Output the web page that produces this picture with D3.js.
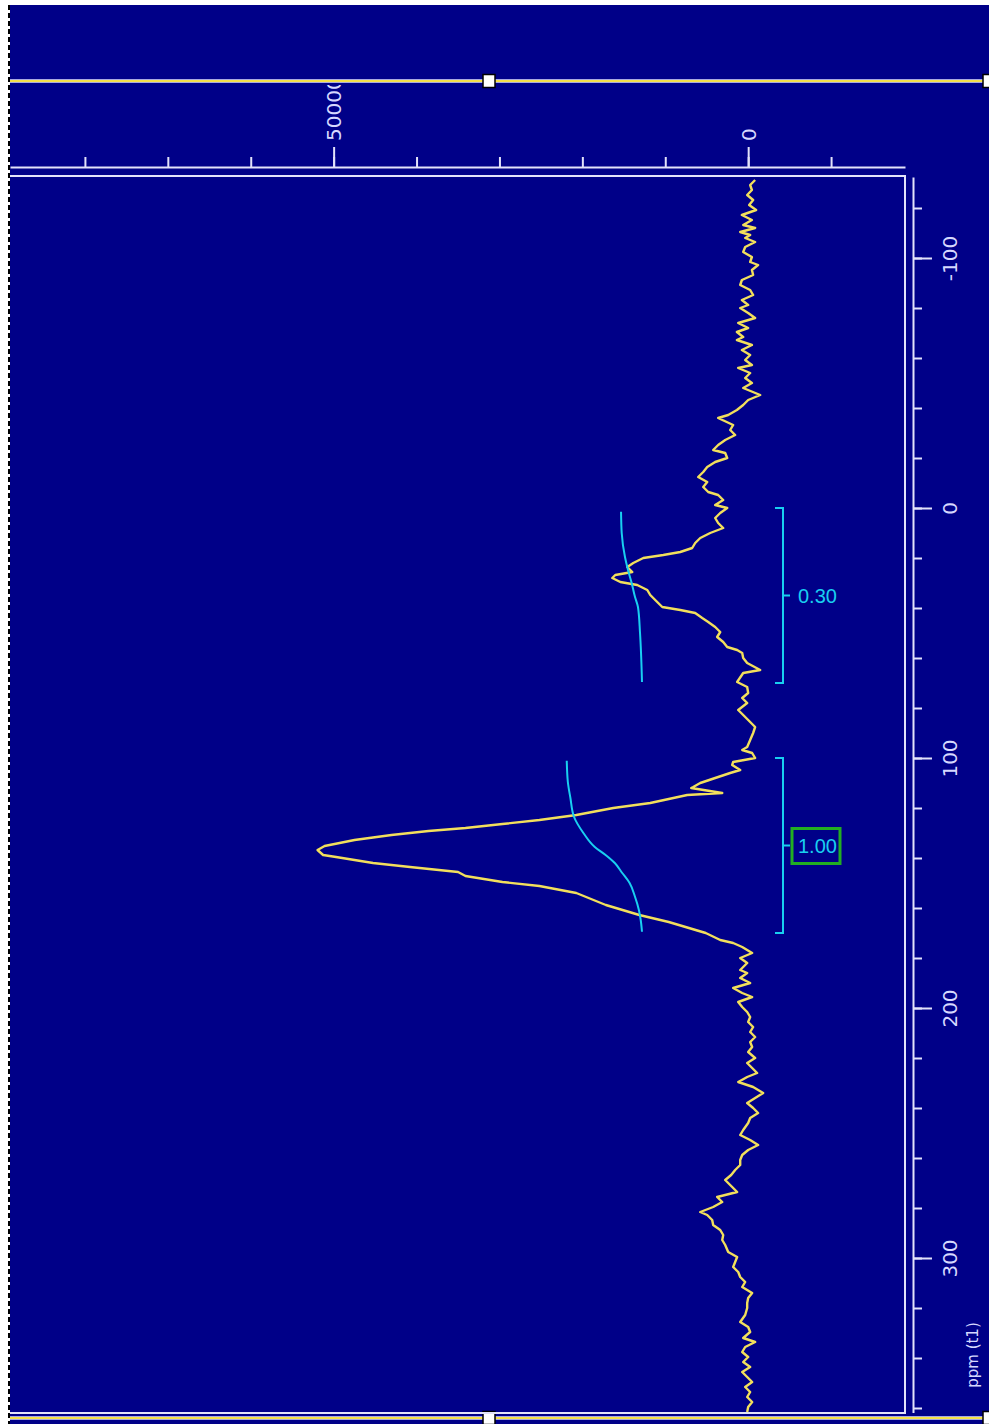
<!DOCTYPE html>
<html>
<head>
<meta charset="utf-8">
<script src="https://cdn.jsdelivr.net/npm/d3@7"></script>
<style>
  html, body { margin: 0; padding: 0; background: #ffffff; }
  svg { display: block; }
</style>
</head>
<body>
<div id="spectrum"></div>
<script>
// [ppm, intensity]
const spectrum = [
  [-131.2,-840],[-129.2,-240],[-127.2,-450],[-125.2,120],[-123.2,-600],[-121.2,-120],[-119.2,-960],[-117.2,760],
  [-115.2,-450],[-113.2,600],[-112.0,-840],[-110.4,960],[-109.2,-240],[-108.0,360],[-106.4,-840],[-104.4,360],
  [-102.4,600],[-100.4,-450],[-98.4,-240],[-97.2,-1200],[-95.2,-450],[-93.2,-600],[-91.2,760],[-89.2,960],
  [-87.2,-240],[-85.2,-600],[-83.2,760],[-81.2,0],[-80.0,960],[-78.0,0],[-76.0,-840],[-74.0,1200],[-72.0,0],
  [-70.4,1360],[-68.4,600],[-67.2,1360],[-65.2,-450],[-63.2,760],[-61.2,-240],[-59.2,360],[-57.2,-450],
  [-56.0,1200],[-54.0,-240],[-52.0,360],[-50.0,-450],[-48.0,600],[-45.2,-1450],[-43.2,0],[-41.2,600],
  [-39.2,1360],[-37.2,2410],[-36.0,3620],[-33.2,1810],[-31.2,2170],[-29.2,1570],[-27.2,2770],[-25.2,3620],
  [-23.2,4220],[-22.0,2770],[-20.0,2530],[-18.4,3980],[-16.4,4940],[-14.4,5420],[-12.4,6030],[-10.4,4940],
  [-8.4,5420],[-6.4,4820],[-5.2,3620],[-3.2,3010],[-1.2,3980],[0,2530],[2.0,3370],[4.0,3980],[6.0,3620],
  [8.0,3010],[10.0,4580],[12.0,5780],[14.0,6390],[16.0,6750],[17.6,8190],[18.8,10240],[20.0,12650],
  [22.0,13860],[23.6,14580],[25.6,13980],[26.8,16030],[28.0,16390],[29.6,15420],[30.8,13380],[32.8,12170],
  [34.8,11810],[37.6,10970],[39.6,10360],[40.8,8190],[42.0,6390],[44.0,5540],[45.6,4820],[47.6,3980],
  [49.6,3370],[51.6,3740],[53.6,3010],[55.6,2530],[56.8,1330],[58.0,720],[60.0,600],[62.0,120],[64.8,-1450],
  [66.0,600],[69.6,1330],[71.6,120],[74.0,0],[76.0,720],[78.0,120],[80.8,1200],[82.8,600],[84.8,0],
  [87.6,-840],[90.0,-600],[92.8,-240],[95.6,120],[96.8,720],[98.0,-480],[100.0,-840],[101.6,1810],
  [102.8,1930],[104.8,960],[106.0,2170],[108.0,3980],[110.0,5780],[111.6,6630],[112.0,6870],[114.0,3130],
  [114.8,7350],[118.0,11810],[120.0,16270],[122.8,20730],[124.8,25180],[126.4,29640],[128.0,34100],
  [129.2,38560],[130.8,43020],[132.8,47480],[135.2,51090],[136.8,51940],[138.8,51270],[139.6,49710],
  [142.0,45250],[143.6,40790],[145.6,34990],[147.2,34100],[149.6,29640],[151.2,25180],[154.0,20730],
  [158.8,17170],[162.8,13130],[165.6,9580],[170.0,5120],[172.8,3370],[174.0,1810],[175.6,720],[178.0,-480],
  [180.0,960],[182.0,120],[184.8,960],[186.0,120],[188.0,960],[190.0,-240],[192.0,1810],[194.0,720],
  [195.6,-480],[197.6,1200],[199.6,720],[201.6,120],[203.6,-240],[205.6,0],[207.6,-600],[209.6,-240],
  [211.6,-840],[213.6,-240],[215.6,-480],[217.6,0],[220.0,-840],[222.0,120],[224.0,-480],[226.0,-1080],
  [227.6,120],[229.6,1200],[231.6,-600],[234.0,-1810],[236.0,-840],[238.0,120],[240.0,-600],[242.0,-1200],
  [244.0,-240],[246.0,0],[248.8,600],[250.8,960],[252.8,-240],[254.8,-1200],[256.8,0],[258.8,720],
  [260.8,960],[262.8,960],[264.8,1570],[266.8,2050],[268.8,2770],[271.6,1930],[273.6,1330],[275.6,3740],
  [277.6,3130],[279.6,4220],[281.6,5780],[282.8,4940],[284.8,4340],[286.8,4220],[288.8,3370],[290.8,3010],
  [292.8,3130],[294.8,2770],[297.6,2410],[299.6,1330],[301.6,1570],[303.6,1810],[305.6,1200],[307.6,960],
  [309.6,360],[311.6,720],[314.0,-480],[316.0,0],[318.0,120],[320.0,120],[322.8,360],[325.6,960],[327.6,0],
  [329.6,-240],[332.0,600],[333.6,-840],[335.6,360],[337.6,720],[339.6,0],[341.6,600],[343.6,-240],
  [345.6,720],[347.6,120],[349.6,-480],[351.6,360],[353.6,-240],[355.6,120],[357.6,-480],[359.6,0],[361.6,120]
];

// [ppm, remaining integral]
const integralCurve1 = [[1.5,0.276],[10,0.267],[19.6,0.224],[24.8,0.184],[30,0.136],[35.6,0.092],[39.6,0.053],[50,0.026],[69.6,0]];
const integralCurve2 = [[101.1,0.99],[109.5,0.976],[116,0.942],[123.5,0.895],[130,0.771],[135.5,0.625],[138.8,0.479],
  [142,0.358],[146,0.26],[150,0.163],[155.5,0.092],[160.8,0.041],[164.8,0.017],[169.5,0]];

const integralRanges = [[0, 70], [100, 170]];
const integralLabels = ["0.30", "1.00"];
const ppmMajorTicks = [-100, 0, 100, 200, 300];
const ppmMinorTicks = [-120,-100,-80,-60,-40,-20,0,20,40,60,80,100,120,140,160,180,200,220,240,260,280,300,320,340,360];
const intensityMajorTicks = [0, 50000];
const intensityMinorTicks = [-10000,0,10000,20000,30000,40000,50000,60000,70000,80000];
const axisTitle = "ppm (t1)";

let width = 989, height = 1424;
let navy = "#000088", frameColor = "#e2e2fa", textColor = "#d6d8ff",
    traceColor = "#f2df5c", intColor = "#19cff0", boxColor = "#22ae22";

let y = d3.scaleLinear().domain([-132.4, 361.8]).range([177, 1412.5]);
let x = d3.scaleLinear().domain([-18916, 89036]).range([905, 10]);
let xi = d3.scaleLinear().domain([0, 1]).range([642, 566]);

let svg = d3.select("#spectrum")
    .append("svg")
        .attr("width", width)
        .attr("height", height);

svg.append("rect")
    .attr("x", 10).attr("y", 5)
    .attr("width", width - 10).attr("height", height - 5)
    .attr("fill", navy);

svg.append("line")
    .attr("x1", 9).attr("x2", 9)
    .attr("y1", 5).attr("y2", height)
    .attr("stroke", "#000").attr("stroke-width", 2)
    .attr("stroke-dasharray", "5,3");

let defs = svg.append("defs");
defs.append("clipPath").attr("id", "plot-clip")
    .append("rect").attr("x", 10).attr("y", 177).attr("width", 895).attr("height", 1236);
defs.append("clipPath").attr("id", "label-clip")
    .append("rect").attr("x", 10).attr("y", 85).attr("width", 979).attr("height", 95);

function cursorLine(yPos) {
    svg.append("line")
        .attr("x1", 10).attr("x2", width)
        .attr("y1", yPos).attr("y2", yPos)
        .attr("stroke", "#a8a8e0").attr("stroke-width", 4);
    svg.append("line")
        .attr("x1", 10).attr("x2", width)
        .attr("y1", yPos).attr("y2", yPos)
        .attr("stroke", "#f4e04a").attr("stroke-width", 2);
    [489, 989].forEach(hx => {
        svg.append("rect")
            .attr("x", hx - 6).attr("y", yPos - 6.5)
            .attr("width", 12).attr("height", 13)
            .attr("fill", "#fff").attr("stroke", "#000").attr("stroke-width", 1.5);
    });
}
cursorLine(81);
cursorLine(1418);

// intensity axis (top)
let topAxis = svg.append("g").attr("transform", "translate(0,167)");
topAxis.call(d3.axisTop(x).tickValues(intensityMinorTicks).tickSize(10).tickSizeOuter(0).tickFormat(""));
let topMajor = svg.append("g").attr("clip-path", "url(#label-clip)")
    .append("g").attr("transform", "translate(0,167)");
topMajor.call(d3.axisTop(x).tickValues(intensityMajorTicks).tickSize(20).tickSizeOuter(0).tickFormat(d => String(d)));
topMajor.select(".domain").remove();
topMajor.selectAll("text")
    .attr("x", 0).attr("y", 0).attr("dy", "0.35em")
    .attr("text-anchor", "start")
    .attr("transform", "translate(0,-26) rotate(-90)");

// ppm axis (right)
let rightAxis = svg.append("g").attr("transform", "translate(913,0)");
rightAxis.call(d3.axisRight(y).tickValues(ppmMinorTicks).tickSize(9).tickSizeOuter(0).tickFormat(""));
let rightMajor = svg.append("g").attr("transform", "translate(913,0)");
rightMajor.call(d3.axisRight(y).tickValues(ppmMajorTicks).tickSize(19).tickSizeOuter(0).tickFormat(d => String(d)));
rightMajor.select(".domain").remove();
rightMajor.selectAll("text")
    .attr("x", 0).attr("y", 0).attr("dy", "0.35em")
    .attr("text-anchor", "middle")
    .attr("transform", "translate(37,0) rotate(-90)");

svg.selectAll(".domain, .tick line")
    .attr("stroke", frameColor)
    .attr("stroke-width", 2);
svg.selectAll(".tick text")
    .attr("fill", textColor)
    .style("font-family", "'DejaVu Sans', Verdana, sans-serif")
    .style("font-size", "20px");

svg.append("text")
    .attr("transform", "translate(973,1355) rotate(-90)")
    .attr("dy", "0.35em")
    .attr("text-anchor", "middle")
    .attr("fill", textColor)
    .style("font-family", "'DejaVu Sans', Verdana, sans-serif")
    .style("font-size", "15px")
    .text(axisTitle);

// frame
svg.append("path")
    .attr("d", "M10,176H905V1413H10")
    .attr("fill", "none")
    .attr("stroke", frameColor)
    .attr("stroke-width", 2);

let plot = svg.append("g").attr("clip-path", "url(#plot-clip)");

let trace = d3.line()
    .x(d => x(d[1]))
    .y(d => y(d[0]));

plot.append("path")
    .datum(spectrum)
    .attr("d", trace)
    .attr("fill", "none")
    .attr("stroke", traceColor)
    .attr("stroke-width", 2.4)
    .attr("stroke-linejoin", "round");

let integralLine = d3.line()
    .x(d => xi(d[1]))
    .y(d => y(d[0]))
    .curve(d3.curveMonotoneY);

[integralCurve1, integralCurve2].forEach(c => {
    plot.append("path")
        .datum(c)
        .attr("d", integralLine)
        .attr("fill", "none")
        .attr("stroke", intColor)
        .attr("stroke-width", 2);
});

integralRanges.forEach((r, i) => {
    let y0 = y(r[0]), y1 = y(r[1]), ym = y((r[0] + r[1]) / 2);
    svg.append("path")
        .attr("d", `M775,${y0}H783V${y1}H775M783,${ym}H790`)
        .attr("fill", "none")
        .attr("stroke", intColor)
        .attr("stroke-width", 2);
    if (integralLabels[i] === "1.00") {
        svg.append("rect")
            .attr("x", 792).attr("y", ym - 17)
            .attr("width", 48).attr("height", 35)
            .attr("fill", "none")
            .attr("stroke", boxColor)
            .attr("stroke-width", 3);
    }
    svg.append("text")
        .attr("x", 798)
        .attr("y", ym)
        .attr("dy", "0.35em")
        .attr("fill", intColor)
        .style("font-family", "'Liberation Sans', Arial, sans-serif")
        .style("font-size", "20px")
        .text(integralLabels[i]);
});
</script>
</body>
</html>
